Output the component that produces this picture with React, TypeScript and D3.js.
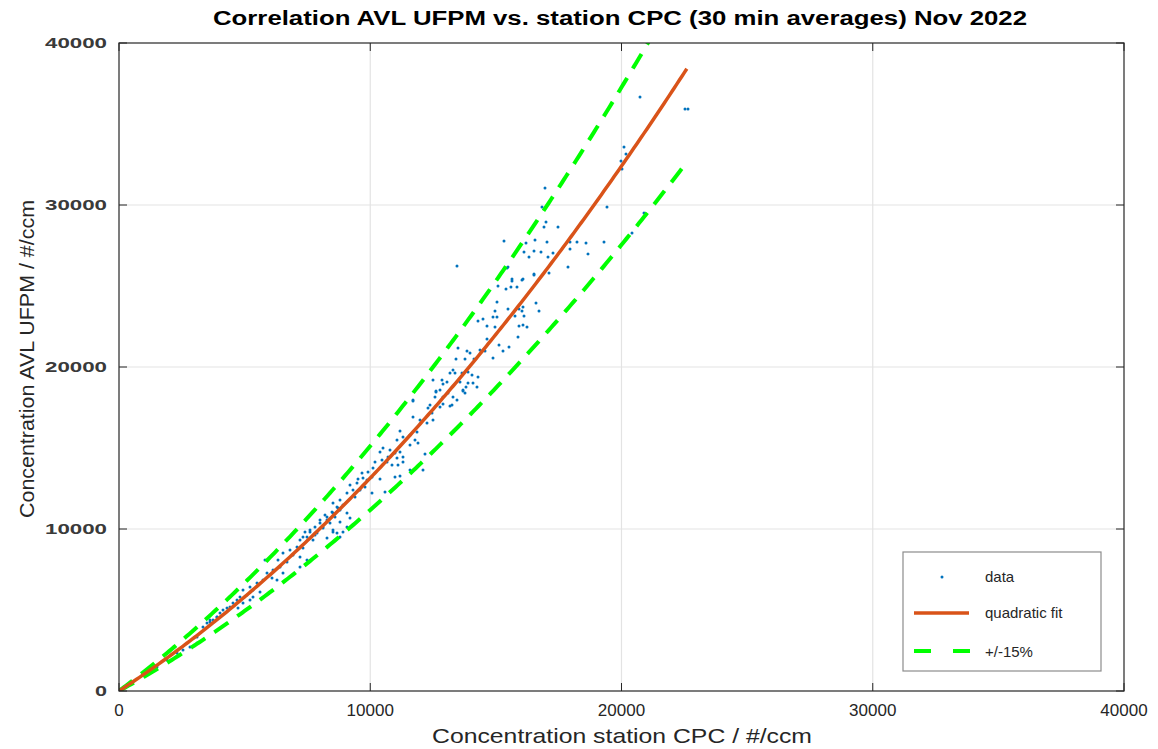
import React from "react";
import * as d3 from "d3";

const title = "Correlation AVL UFPM vs. station CPC (30 min averages) Nov 2022";
const xLabel = "Concentration station CPC / #/ccm";
const yLabel = "Concentration AVL UFPM / #/ccm";
const xTicks = [0, 10000, 20000, 30000, 40000];
const yTicks = [0, 10000, 20000, 30000, 40000];
const legendLabels = ["data", "quadratic fit", "+/-15%"];

// quadratic fit coefficients (y = a*x + b*x^2) and its x range
const fitA = 1.0094;
const fitB = 3.054e-5;
const fitXMax = 22600;
const bandFactors = [1.15, 0.85];

// [station CPC, AVL UFPM]
const dataPoints: [number, number][] = [
  [20736,36668],[22527,35927],[22646,35927],[20100,33581],[20178,33150],[19980,32717],[20020,32223],
  [16955,31050],[16835,29877],[19422,29877],[20895,29507],[16995,28951],[16915,28643],[17472,28643],
  [20417,28273],[15323,27779],[16199,27655],[16557,27841],[17034,27717],[17950,27717],[18228,27717],
  [18587,27655],[19303,27717],[16119,27100],[16517,27162],[16796,27100],[17273,27038],[17950,27285],
  [18666,26976],[16318,26791],[17074,26791],[15442,26112],[17870,26174],[16517,25741],[17114,25803],
  [16079,25433],[15641,25433],[13452,26236],
  [15482,26174],[16517,25680],[16039,25371],[15641,25310],[15840,24940],[15600,24940],[15402,24816],
  [15084,25001],[15044,24013],[16597,23952],[16716,23457],[15482,23581],[15920,23581],[16079,23704],
  [16039,23457],[14965,23457],[14885,23087],[14288,22840],[14487,22963],[15044,23087],[15760,23149],
  [16119,23149],[14646,22531],[14965,22469],[15920,22531],[16079,22593],[16238,22469],[15880,21852],
  [14646,21729],[13492,21173],[15124,21358],[15283,20988],[15522,21235],[13850,20988],[13970,20865],
  [14368,21050],[14567,20988],[13412,20494],[13771,20494],[14129,20494],[14885,20556],[13293,19815],
  [13173,19630],[13373,19630],[13651,19630],[13890,19692],[14049,19507],[14288,19383],[12497,19198],
  [12855,19198],[13054,19075],[12895,18951],[13571,19075],[13890,19013],[13810,18766],[14089,19013],
  [14248,18766],[12617,18457],[12776,18581],[13094,18396],[13691,18581],[13771,18396],[13293,18149],
  [12577,18149],[11701,17964],[12378,17655],[12895,17717],[13173,17593],
  [12617,18519],[13691,18519],[12895,18149],[13253,17655],[12776,17532],[13452,17964],[11701,17902],
  [11701,16914],[12298,17470],[12457,17161],[12258,16544],[11980,16729],[12497,16729],[11184,16050],
  [11303,15680],[11582,15803],[11860,15988],[11781,15494],[11900,15309],[11582,15186],[11064,15494],
  [10388,14754],[10507,15001],[10786,14877],[10985,14692],[11184,14754],[11303,14445],[11064,14383],
  [10706,14445],[10467,14260],[10189,14136],[10666,14136],[11303,14136],[11104,13951],[10865,13951],
  [12179,14630],[12099,13642],[11582,13642],[10985,13210],[11184,13272],
  [10109,13766],[9910,13519],[9671,13457],[9711,13149],[9512,13087],[9870,13025],[10069,13210],
  [9472,12840],[9791,12593],[9592,12408],[9194,12716],[9313,12408],[9074,12223],[9393,11976],
  [10069,12223],[10388,13087],[10587,12285],
  [8796,11791],[8517,11605],[8915,11482],[8716,11297],[8477,11050],[8199,10865],[9074,10988],
  [9194,10680],[8597,10741],[8278,10556],[8000,10371],[7801,10124],[7602,9939],[7403,9815],
  [8119,10062],[8517,9815],[8915,9815],[8796,9507],[7801,9630],[7323,9507],
  [8676,11358],[8796,11173],[8517,10988],[8278,10741],[8000,10556],[8398,10371],[8796,10433],
  [9074,10124],[8517,9939],[8119,10124],[7602,9815],[7880,9754],[7482,9507],[7204,9321],[7721,9321],
  [8278,9445],[8676,9754],
  [7084,8889],[7323,8827],[6806,8704],[6527,8519],[6925,8395],[7204,8272],[6328,8087],[6687,7964],
  [6408,7655],[6129,7470],[5890,7284],[6090,6975],[6527,7284],[6289,6852],[5811,8087],[7204,7655],
  [7482,8087],
  [5731,6852],[5492,6667],[5214,6420],[5333,6235],[4935,6235],[5094,5926],[4816,5803],[4696,5618],
  [4537,5432],[4418,5185],[4298,5124],[4139,5000],[4020,4815],[3900,4568],[3741,4383],[3622,4259],
  [3502,4198],[5612,6111],[5333,5803],[4935,5432],[4736,5124],[5214,5618],
  [3104,2963],[2826,2716],[2547,2531],[2308,2346],[1910,1914],[1512,1482],[1114,1296],[3104,3333],
  [3343,3951],[3622,4383],[3900,4568]
];

const W = 1158, H = 749;
const left = 119, right = 1124, top = 43, bottom = 691;

export default function App() {
  const x = d3.scaleLinear().domain([0, 40000]).range([left, right]);
  const y = d3.scaleLinear().domain([0, 40000]).range([bottom, top]);
  const fit = (v: number) => fitA * v + fitB * v * v;
  const xs = d3.range(0, fitXMax + 1, 100);
  const line = d3.line<number>().x((v) => x(v)).y((v) => y(fit(v)));
  const bandLine = (f: number) =>
    d3.line<number>().x((v) => x(v)).y((v) => y(f * fit(v)))(xs) || "";
  const axisColor = "#262626";
  const tickLen = 8;
  const orange = "#d95319";
  const green = "#00ff00";
  const blue = "#0072bd";

  return (
    <svg width={W} height={H} style={{ position: "absolute", left: 0, top: 0, background: "#fff" }}
      fontFamily="'Liberation Sans', Arial, sans-serif">
      <defs>
        <clipPath id="plotclip">
          <rect x={left} y={top} width={right - left} height={bottom - top} />
        </clipPath>
      </defs>
      <rect x={0} y={0} width={W} height={H} fill="#fff" />
      {/* grid */}
      {xTicks.slice(1, -1).map((t) => (
        <line key={"gx" + t} x1={x(t)} x2={x(t)} y1={top} y2={bottom} stroke="#e3e3e3" strokeWidth={1.2} />
      ))}
      {yTicks.slice(1, -1).map((t) => (
        <line key={"gy" + t} x1={left} x2={right} y1={y(t)} y2={y(t)} stroke="#e3e3e3" strokeWidth={1.2} />
      ))}
      <g clipPath="url(#plotclip)">
        {dataPoints.map(([a, b], i) => (
          <circle key={i} cx={x(a)} cy={y(b)} r={1.5} fill={blue} />
        ))}
        {bandFactors.map((f) => (
          <path key={f} d={bandLine(f)} fill="none" stroke={green} strokeWidth={4}
            strokeDasharray="17,11" />
        ))}
        <path d={line(xs) || ""} fill="none" stroke={orange} strokeWidth={3.5} />
      </g>
      {/* axes box */}
      <rect x={left} y={top} width={right - left} height={bottom - top} fill="none" stroke={axisColor} strokeWidth={1.2} />
      {xTicks.map((t) => (
        <g key={"xt" + t}>
          <line x1={x(t)} x2={x(t)} y1={bottom} y2={bottom - tickLen} stroke={axisColor} />
          <line x1={x(t)} x2={x(t)} y1={top} y2={top + tickLen} stroke={axisColor} />
          <text x={x(t)} y={716} textAnchor="middle" fontSize={17} fill={axisColor}
            fontFamily="'Liberation Sans Narrow', 'Liberation Sans', Arial, sans-serif">{t}</text>
        </g>
      ))}
      {yTicks.map((t) => (
        <g key={"yt" + t}>
          <line x1={left} x2={left + tickLen} y1={y(t)} y2={y(t)} stroke={axisColor} />
          <line x1={right} x2={right - tickLen} y1={y(t)} y2={y(t)} stroke={axisColor} />
          <text x={107} y={y(t) + 5} textAnchor="end" fontSize={14} fontWeight="bold" fill="#3a3a3a"
            textLength={t === 0 ? 12 : 62} lengthAdjust="spacingAndGlyphs">{t}</text>
        </g>
      ))}
      {/* title and axis labels */}
      <text x={620} y={25} textAnchor="middle" fontSize={20} fontWeight="bold" fill="#000"
        textLength={814} lengthAdjust="spacingAndGlyphs"
        fontFamily="'Liberation Sans Narrow', 'Liberation Sans', Arial, sans-serif">{title}</text>
      <text x={622} y={743} textAnchor="middle" fontSize={21} fill={axisColor}
        textLength={380} lengthAdjust="spacingAndGlyphs"
        fontFamily="'Liberation Sans Narrow', 'Liberation Sans', Arial, sans-serif">{xLabel}</text>
      <text transform={`translate(34,359) rotate(-90)`} textAnchor="middle" fontSize={21} fill={axisColor}
        textLength={318} lengthAdjust="spacingAndGlyphs"
        fontFamily="'Liberation Sans Narrow', 'Liberation Sans', Arial, sans-serif">{yLabel}</text>
      {/* legend */}
      <g>
        <rect x={903} y={552} width={198} height={119} fill="#fff" stroke="#8c8c8c" strokeWidth={1.2} />
        <circle cx={942} cy={577} r={1.5} fill={blue} />
        <line x1={914} x2={969} y1={613} y2={613} stroke={orange} strokeWidth={3.5} />
        <line x1={914} x2={970} y1={651} y2={651} stroke={green} strokeWidth={4} strokeDasharray="17,22" />
        {legendLabels.map((s, i) => (
          <text key={s} x={985} y={[582, 618, 657][i]} fontSize={15} fill={axisColor}>{s}</text>
        ))}
      </g>
    </svg>
  );
}
